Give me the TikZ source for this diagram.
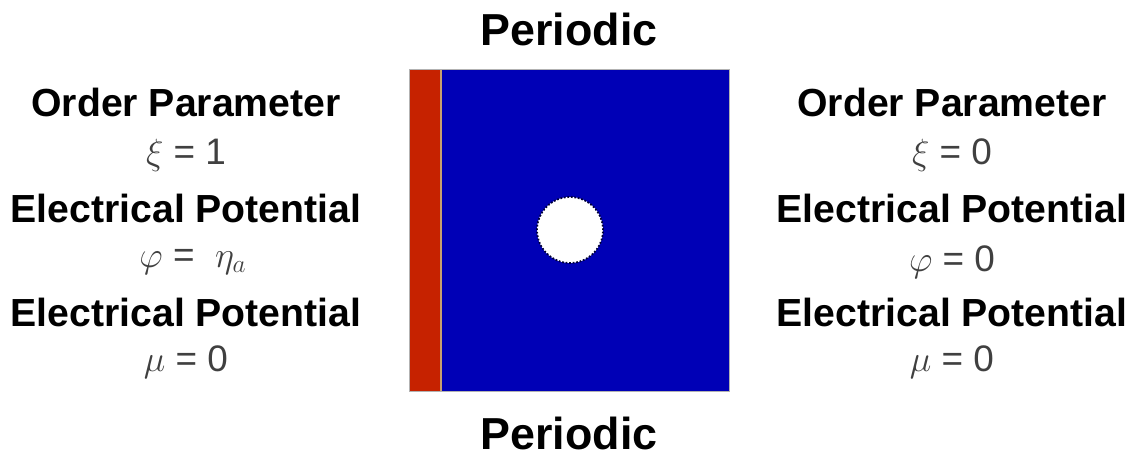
\documentclass[tikz,border=0pt]{standalone}
\usepackage{fontspec}
\setmainfont{Liberation Sans}
\usetikzlibrary{positioning}
\definecolor{domainBlue}{RGB}{0,0,182}
\definecolor{anodeRed}{RGB}{198,34,0}
\definecolor{edgeTan}{RGB}{200,160,110}

\begin{document}
\begin{tikzpicture}[
    head/.style={font=\fontsize{22.3}{24}\selectfont\bfseries},
    eqn/.style={font=\fontsize{21}{23}\selectfont, text=black!75},
    bchead/.style={font=\fontsize{25.5}{28}\selectfont\bfseries, inner sep=1pt}]
    \useasboundingbox (0,0) rectangle (22.74,9.14);
    % domain
    \fill[domainBlue] (8.18,1.32) rectangle (14.58,7.76);
    \fill[anodeRed] (8.18,1.32) rectangle (8.82,7.76);
    \draw[edgeTan, line width=1.2pt] (8.82,1.32) -- (8.82,7.76);
    \draw[gray!60, line width=0.4pt] (8.18,1.32) rectangle (14.58,7.76);
    \draw[fill=white, draw=domainBlue!30!black, densely dotted, line width=1pt] (11.4,4.54) circle (0.66);
    % periodic boundaries
    \node[bchead] (topBC) at (11.38,8.56) {Periodic};
    \node[bchead] (botBC) at (11.38,0.48) {Periodic};
    % left boundary
    \node[head] (leftOrder) at (3.72,7.1) {Order Parameter};
    \node[eqn] (leftXi) at (3.72,6.04) {$\xi$ = 1};
    \node[head] (leftPot) at (3.72,4.98) {Electrical Potential};
    \node[eqn] (leftPhi) at (3.86,3.9) {$\varphi$ = \ $\eta_a$};
    \node[head] (leftChem) at (3.72,2.9) {Electrical Potential};
    \node[eqn] (leftMu) at (3.72,1.9) {$\mu$ = 0};
    % right boundary
    \node[head] (rightOrder) at (19.04,7.1) {Order Parameter};
    \node[eqn] (rightXi) at (19.04,6.04) {$\xi$ = 0};
    \node[head] (rightPot) at (19.04,4.98) {Electrical Potential};
    \node[eqn] (rightPhi) at (19.04,3.9) {$\varphi$ = 0};
    \node[head] (rightChem) at (19.04,2.9) {Electrical Potential};
    \node[eqn] (rightMu) at (19.04,1.9) {$\mu$ = 0};
\end{tikzpicture}
\end{document}
